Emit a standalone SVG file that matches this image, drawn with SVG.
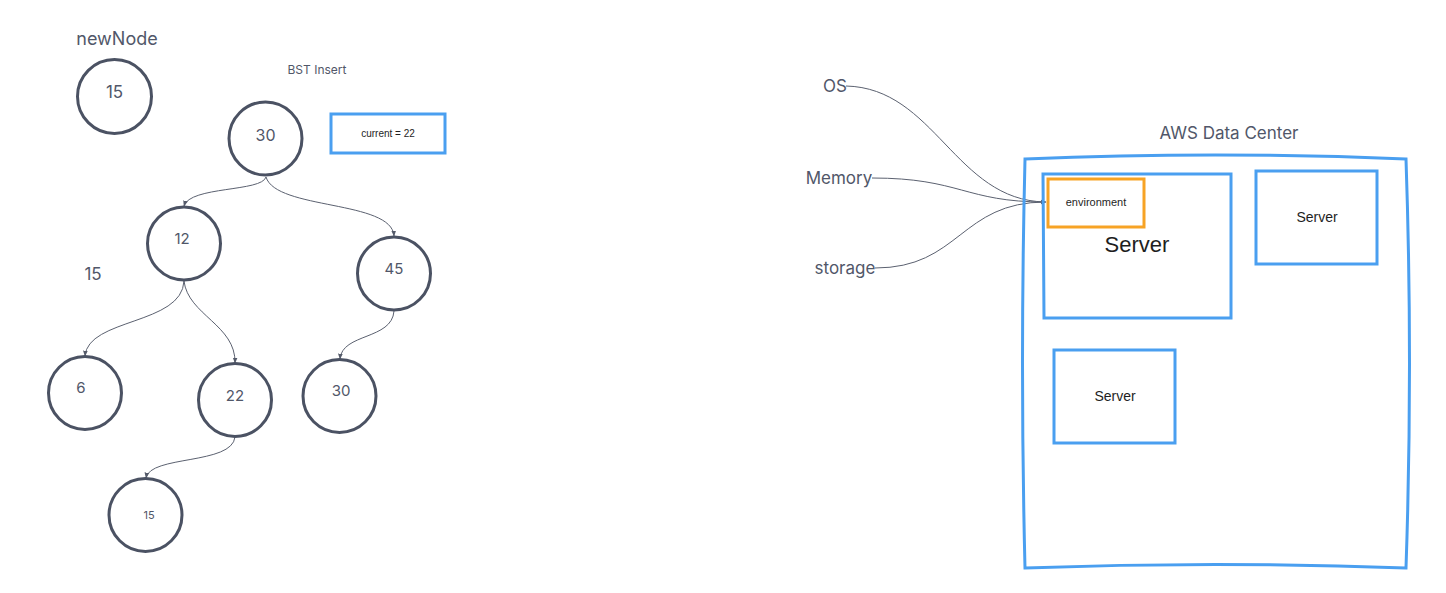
<svg xmlns="http://www.w3.org/2000/svg" width="1446" height="593" viewBox="0 0 1446 593">
<defs>
<marker id="arr" viewBox="0 0 10 10" refX="9" refY="5" markerWidth="6" markerHeight="6" orient="auto-start-reverse" markerUnits="userSpaceOnUse">
<path d="M0,1 L10,5 L0,9 Z" fill="#555b6a"/>
</marker>
<style>
.node{fill:#fff;stroke:#4b5263;stroke-width:3}
.lbl{font-family:Inter,"Liberation Sans",sans-serif;fill:#515769;text-anchor:middle}
.blk{font-family:"Liberation Sans",Arial,sans-serif;fill:#1e1e1e;text-anchor:middle}
.edge{fill:none;stroke:#5b6170;stroke-width:1;marker-end:url(#arr)}
.line{fill:none;stroke:#5b6170;stroke-width:1}
.blue{fill:none;stroke:#4a9ff0;stroke-width:3}
.orange{fill:none;stroke:#f7a325;stroke-width:3}
</style>
</defs>
<rect width="1446" height="593" fill="#fff"/>

<g id="connectors">
<path class="edge" d="M266,177 C262,192 190,186 184,206"/>
<path class="edge" d="M266,177 C276,210 392,200 394,236"/>
<path class="edge" d="M184,281 C182,325 88,318 85,356"/>
<path class="edge" d="M184,281 C188,315 236,325 235,363"/>
<path class="edge" d="M394,311 C392,340 342,333 340,359"/>
<path class="edge" d="M235,437 C232,465 150,455 146,478"/>
<path class="line" d="M846,86 C935,88 955,200 1045,202"/>
<path class="line" d="M872,178 C960,178 965,202 1045,202"/>
<path class="edge" d="M875,268 C960,268 960,202 1046,202"/>
</g>

<g id="title-newNode"><text class="lbl" x="117" y="45" font-size="18">newNode</text></g>
<g id="title-bst"><text class="lbl" x="317" y="74" font-size="12">BST Insert</text></g>

<g id="n-newnode"><circle class="node" cx="114.5" cy="96.5" r="37"/><text class="lbl" x="114.5" y="98" font-size="17">15</text></g>
<g id="n-root"><circle class="node" cx="265.5" cy="138.5" r="36.5"/><text class="lbl" x="265.5" y="141" font-size="16">30</text></g>
<g id="current"><rect class="blue" x="331" y="114" width="114" height="39"/><text class="blk" x="388" y="137" font-size="10">current = 22</text></g>
<g id="n-12"><circle class="node" cx="184" cy="243.5" r="36.5"/><text class="lbl" x="182" y="244" font-size="15">12</text></g>
<g id="label-15"><text class="lbl" x="93" y="280" font-size="17">15</text></g>
<g id="n-45"><circle class="node" cx="394" cy="273.5" r="36.5"/><text class="lbl" x="394" y="274" font-size="15">45</text></g>
<g id="n-6"><circle class="node" cx="85" cy="393" r="36.5"/><text class="lbl" x="81" y="393" font-size="15">6</text></g>
<g id="n-22"><circle class="node" cx="235" cy="400" r="36.5"/><text class="lbl" x="235" y="401" font-size="15">22</text></g>
<g id="n-30b"><circle class="node" cx="339.5" cy="396" r="36.5"/><text class="lbl" x="341" y="396" font-size="15">30</text></g>
<g id="n-15"><circle class="node" cx="145.5" cy="515" r="36.5"/><text class="lbl" x="149" y="519" font-size="11">15</text></g>

<g id="t-os"><text class="lbl" x="835" y="92" font-size="17">OS</text></g>
<g id="t-memory"><text class="lbl" x="839" y="184" font-size="17">Memory</text></g>
<g id="t-storage"><text class="lbl" x="845" y="274" font-size="17">storage</text></g>

<g id="aws">
<text class="lbl" x="1229" y="139" font-size="17">AWS Data Center</text>
<path class="blue" d="M1025,159 Q1215,151 1406,159 Q1413,364 1406,568 Q1215,561 1025,568 Q1020,364 1025,159 Z"/>
</g>
<g id="server-main">
<path class="blue" d="M1043,174 L1231,174 L1231,318 L1044,318 Z"/>
<text class="blk" x="1137" y="252" font-size="22">Server</text>
</g>
<g id="environment">
<rect class="orange" x="1048" y="179" width="96" height="48"/>
<text class="blk" x="1096" y="206" font-size="11">environment</text>
</g>
<g id="server-2">
<rect class="blue" x="1256" y="171" width="121" height="93"/>
<text class="blk" x="1317" y="222" font-size="14">Server</text>
</g>
<g id="server-3">
<rect class="blue" x="1054" y="350" width="121" height="93"/>
<text class="blk" x="1115" y="401" font-size="14">Server</text>
</g>
</svg>
